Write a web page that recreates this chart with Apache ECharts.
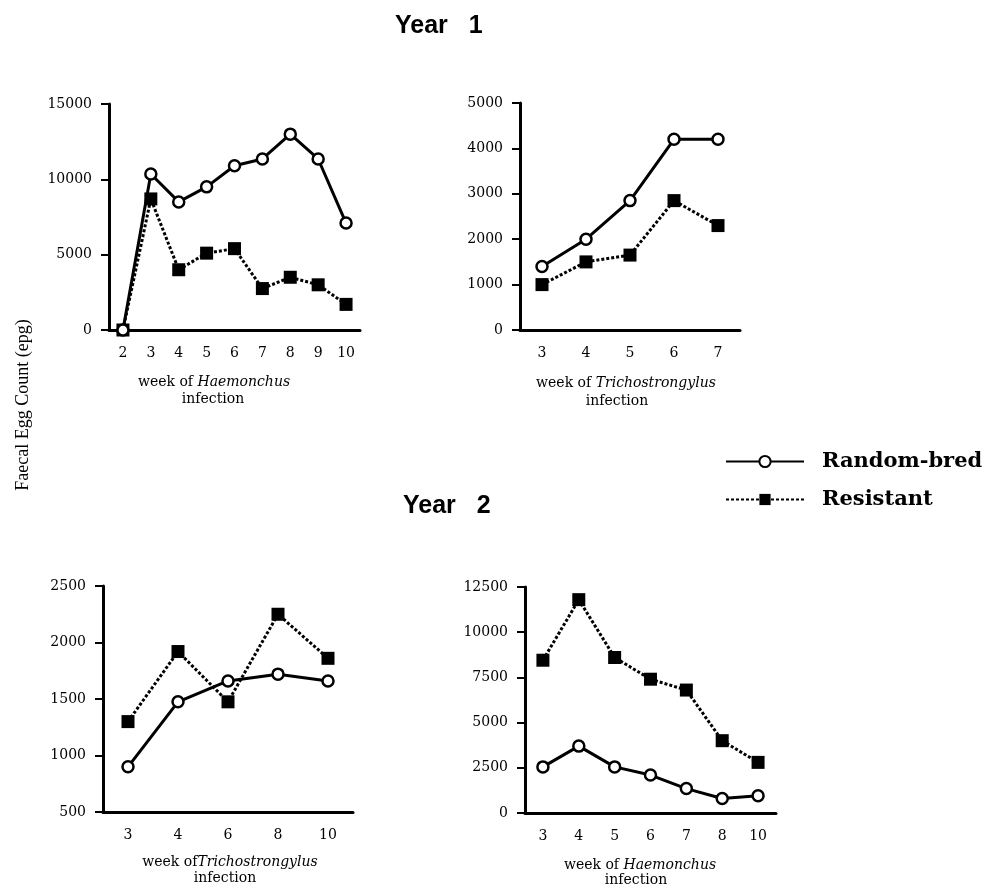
<!DOCTYPE html>
<html>
<head>
<meta charset="utf-8">
<script src="https://cdn.jsdelivr.net/npm/echarts@6/dist/echarts.min.js"></script>
<style>
  html, body { margin: 0; padding: 0; background: #fff; }
  #chart1 { width: 996px; height: 889px; }
</style>
</head>
<body>
<div id="chart1"></div>
<script>
// Year 1 - Haemonchus
const weeksH1 = ['2', '3', '4', '5', '6', '7', '8', '9', '10'];
const randomH1 = [0, 10350, 8500, 9500, 10900, 11350, 13000, 11350, 7100];
const resistH1 = [0, 8700, 4000, 5100, 5400, 2750, 3500, 3000, 1700];
// Year 1 - Trichostrongylus
const weeksT1 = ['3', '4', '5', '6', '7'];
const randomT1 = [1400, 2000, 2850, 4200, 4200];
const resistT1 = [1000, 1500, 1650, 2850, 2300];
// Year 2 - Trichostrongylus
const weeksT2 = ['3', '4', '6', '8', '10'];
const randomT2 = [900, 1475, 1660, 1720, 1660];
const resistT2 = [1300, 1920, 1475, 2250, 1860];
// Year 2 - Haemonchus
const weeksH2 = ['3', '4', '5', '6', '7', '8', '10'];
const randomH2 = [2550, 3700, 2550, 2100, 1350, 800, 950];
const resistH2 = [8450, 11800, 8600, 7400, 6800, 4000, 2800];

const serif = 'DejaVu Serif';

let chart1;

const xAxisFor = (idx, cats) => ({
    type: 'category',
    gridIndex: idx,
    data: cats,
    axisLine: { lineStyle: { color: '#000', width: 3 } },
    axisTick: { alignWithLabel: true, length: 11, lineStyle: { color: '#000', width: 3 } },
    axisLabel: { interval: 0, color: '#000', fontFamily: serif, fontSize: 14, margin: 16 }
});

const yAxisFor = (idx, min, max, step) => ({
    type: 'value',
    gridIndex: idx,
    min: min,
    max: max,
    interval: step,
    splitLine: { show: false },
    axisLine: { show: true, lineStyle: { color: '#000', width: 3 } },
    axisTick: { show: true, length: 8, lineStyle: { color: '#000', width: 2 } },
    axisLabel: { color: '#000', fontFamily: serif, fontSize: 14, margin: 17,
                 formatter: (v) => String(v) }
});

const resistSeries = (idx, data) => ({
    name: 'Resistant',
    type: 'line',
    xAxisIndex: idx,
    yAxisIndex: idx,
    data: data,
    symbol: 'rect',
    symbolSize: 13,
    itemStyle: { color: '#000' },
    lineStyle: { color: '#000', width: 3, type: [3, 2] }
});

const randomSeries = (idx, data) => ({
    name: 'Random-bred',
    type: 'line',
    xAxisIndex: idx,
    yAxisIndex: idx,
    data: data,
    symbol: 'circle',
    symbolSize: 11,
    itemStyle: { color: '#fff', borderColor: '#000', borderWidth: 2.5 },
    lineStyle: { color: '#000', width: 3 }
});

const axisName = (cx, y, genus, gap) => ([
    {
        type: 'text', x: cx, y: y,
        style: {
            text: '{n|week of' + gap + '}{i|' + genus + '}',
            align: 'center', verticalAlign: 'middle',
            rich: {
                n: { fontFamily: serif, fontSize: 14, fill: '#000' },
                i: { fontFamily: serif, fontStyle: 'italic', fontSize: 14, fill: '#000' }
            }
        }
    }
]);

const getOptionChart1 = () => {
    return {
        animation: false,
        backgroundColor: '#fff',
        title: [
            { text: 'Year   1', left: 390, top: 9,
              textStyle: { fontFamily: 'Liberation Sans', fontWeight: 'bold', fontSize: 25, color: '#000' } },
            { text: 'Year   2', left: 398, top: 489,
              textStyle: { fontFamily: 'Liberation Sans', fontWeight: 'bold', fontSize: 25, color: '#000' } }
        ],
        legend: {
            data: ['Random-bred', 'Resistant'],
            orient: 'vertical',
            left: 725,
            top: 451,
            itemWidth: 78,
            itemHeight: 14,
            itemGap: 17,
            padding: 0,
            textStyle: { fontFamily: serif, fontWeight: 'bold', fontSize: 21, color: '#000', padding: [0, 0, 0, 13] }
        },
        grid: [
            { left: 109, top: 104, width: 251, height: 226 },
            { left: 520, top: 103, width: 220, height: 227 },
            { left: 103, top: 586, width: 250, height: 226 },
            { left: 525, top: 587, width: 251, height: 226 }
        ],
        xAxis: [
            xAxisFor(0, weeksH1),
            xAxisFor(1, weeksT1),
            xAxisFor(2, weeksT2),
            xAxisFor(3, weeksH2)
        ],
        yAxis: [
            yAxisFor(0, 0, 15000, 5000),
            yAxisFor(1, 0, 5000, 1000),
            yAxisFor(2, 500, 2500, 500),
            yAxisFor(3, 0, 12500, 2500)
        ],
        series: [
            resistSeries(0, resistH1), randomSeries(0, randomH1),
            resistSeries(1, resistT1), randomSeries(1, randomT1),
            resistSeries(2, resistT2), randomSeries(2, randomT2),
            resistSeries(3, resistH2), randomSeries(3, randomH2)
        ],
        graphic: [
            {
                type: 'text', x: 23, y: 405, rotation: Math.PI / 2,
                style: { text: 'Faecal Egg Count (epg)', align: 'center', verticalAlign: 'middle',
                         fontFamily: 'Liberation Serif', fontSize: 18, fill: '#000' }
            },
            ...axisName(214, 382, 'Haemonchus', ' '),
            { type: 'text', x: 213, y: 399, style: { text: 'infection', align: 'center', verticalAlign: 'middle', fontFamily: serif, fontSize: 14, fill: '#000' } },
            ...axisName(626, 383, 'Trichostrongylus', ' '),
            { type: 'text', x: 617, y: 401, style: { text: 'infection', align: 'center', verticalAlign: 'middle', fontFamily: serif, fontSize: 14, fill: '#000' } },
            ...axisName(230, 862, 'Trichostrongylus', ''),
            { type: 'text', x: 225, y: 878, style: { text: 'infection', align: 'center', verticalAlign: 'middle', fontFamily: serif, fontSize: 14, fill: '#000' } },
            ...axisName(640, 865, 'Haemonchus', ' '),
            { type: 'text', x: 636, y: 880, style: { text: 'infection', align: 'center', verticalAlign: 'middle', fontFamily: serif, fontSize: 14, fill: '#000' } }
        ]
    };
};

const initCharts = () => {
    chart1 = echarts.init(document.getElementById('chart1'));
    chart1.setOption(getOptionChart1());
};

document.addEventListener('DOMContentLoaded', function () {
    initCharts();
});

window.addEventListener('resize', function () {
    chart1.resize();
});
</script>
</body>
</html>
